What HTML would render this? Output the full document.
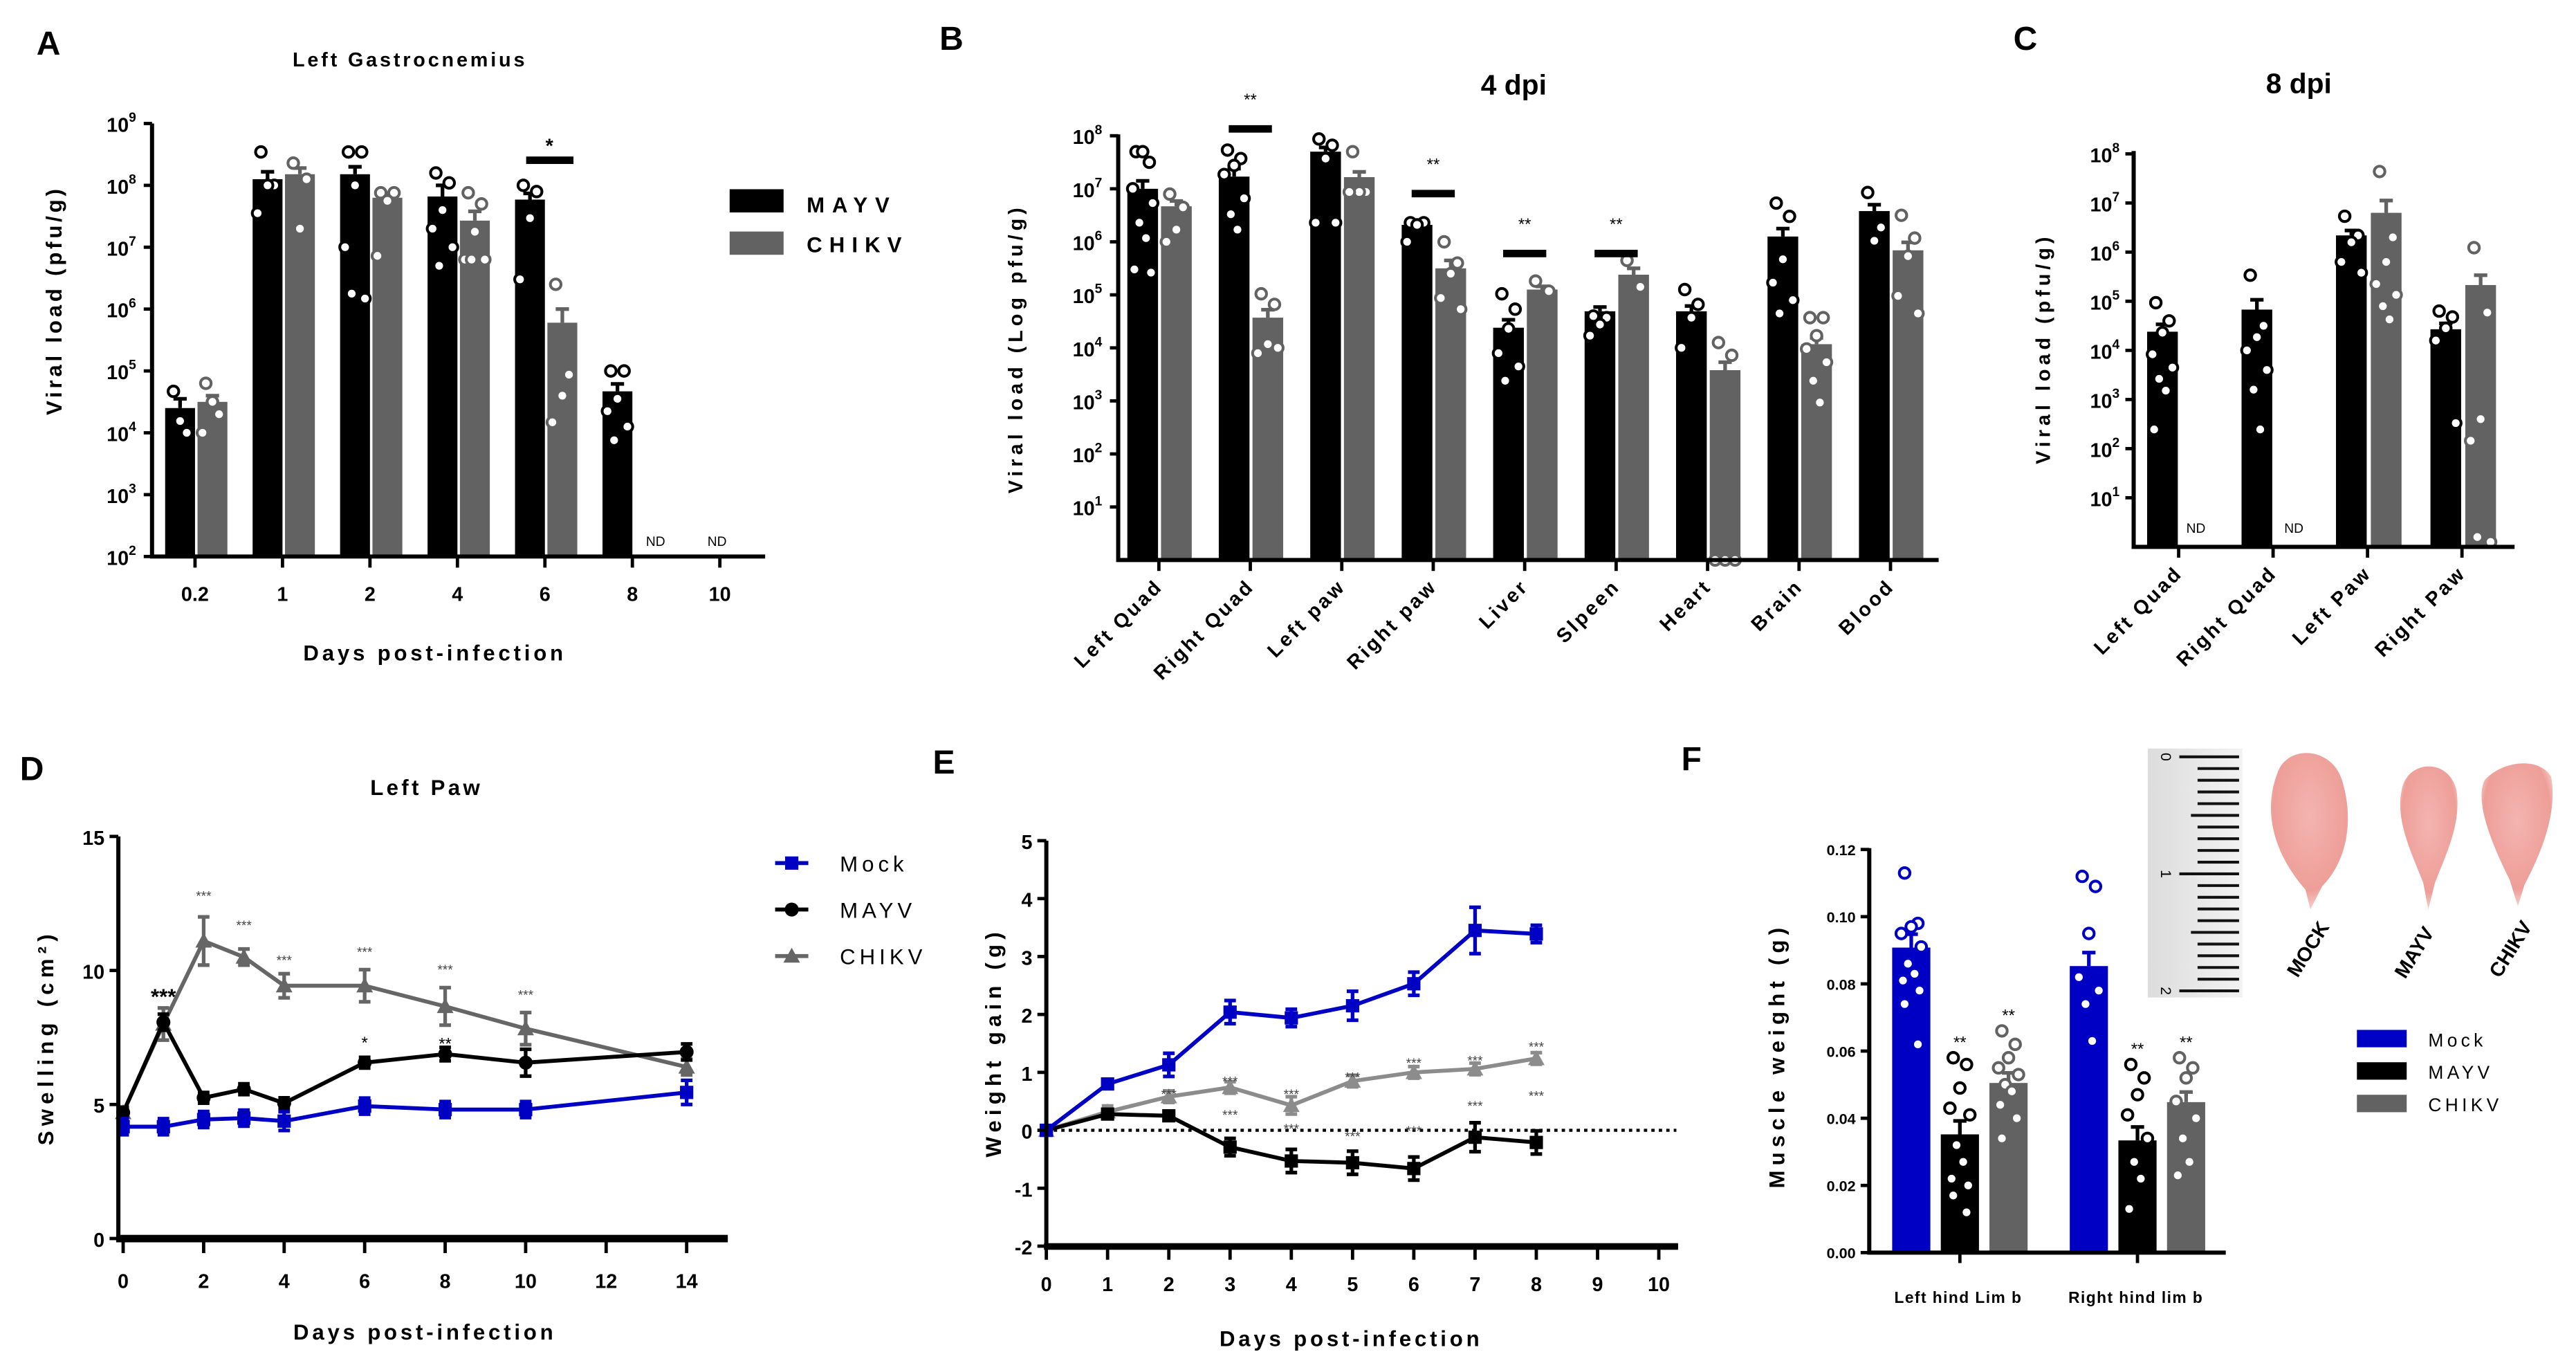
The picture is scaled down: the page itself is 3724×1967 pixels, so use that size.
<!DOCTYPE html>
<html><head><meta charset="utf-8"><title>Viral load, swelling, weight and muscle figure</title>
<style>
html,body{margin:0;padding:0;background:#fff;}
svg{display:block;font-family:"Liberation Sans",sans-serif;font-weight:bold;}
</style></head>
<body>
<svg id="fig" width="3724" height="1967" viewBox="0 0 1552 820" preserveAspectRatio="none">
<defs>
<linearGradient id="rulerGrad" x1="0" x2="1" y1="0" y2="0"><stop offset="0" stop-color="#dcdcdc"/><stop offset="1" stop-color="#f2f2f2"/></linearGradient>
<radialGradient id="muscleGrad" cx="0.5" cy="0.4" r="0.6"><stop offset="0" stop-color="#f4b4b0"/><stop offset="0.8" stop-color="#ee9e98"/><stop offset="1" stop-color="#f7d0cc"/></radialGradient>
</defs>
</svg>
<script>
// ---------- Panel A data ----------
const aCats=['0.2','1','2','4','6','8','10'];
const aMayv=[4.4,8.1,8.18,7.82,7.77,4.67,null];
const aMayvErr=[0.15,0.12,0.12,0.18,0.1,0.12,null];
const aChikv=[4.5,8.18,7.8,7.43,5.78,null,null];
const aChikvErr=[0.1,0.1,0.05,0.15,0.22,null,null];
const aMayvPts=[[4.67,4.0,4.19],[8.54,8.0,8.0,7.55],[8.54,8.54,8.0,7.0,6.17,6.25],[8.2,8.04,7.6,7.3,7.0,6.7],[8.0,7.9,7.47,6.48],[5.0,5.0,4.55,4.35,4.1,3.88],[]];
const aChikvPts=[[4.8,4.3,4.5,4.0],[8.36,8.1,7.3],[7.88,7.88,7.75,6.86],[7.88,7.7,7.25,6.8,6.8,6.8],[6.4,4.94,4.6,4.17],[],[]];
// ---------- Panel B data ----------
const bCats=['Left Quad','Right Quad','Left paw','Right paw','Liver','Slpeen','Heart','Brain','Blood'];
const bMayv=[7.0,7.23,7.7,6.32,4.38,4.69,4.69,6.1,6.58];
const bMayvErr=[0.15,0.15,0.08,0.05,0.15,0.08,0.1,0.15,0.12];
const bChikv=[6.67,4.57,7.22,5.5,5.1,5.38,3.58,4.07,5.84];
const bChikvErr=[0.1,0.15,0.1,0.15,0.06,0.12,0.15,0.12,0.15];
const bMayvPts=[[7.7,7.5,7.7,7.0,6.73,6.36,6.07,5.48,5.42],[7.73,7.57,7.44,7.27,6.82,6.52,6.23],[7.94,7.82,7.57,6.36,6.36],[6.36,6.36,6.32,6.0],[5.02,4.73,4.36,3.9,3.65,3.38],[4.6,4.57,4.44,4.23],[5.1,4.82,4.57,4.0],[6.73,6.48,5.67,5.23,4.9,4.65],[6.93,6.27,6.02]];
const bChikvPts=[[6.9,6.65,6.23,6.0],[5.02,4.82,4.07,3.9,4.0],[7.7,6.94,6.94,6.94],[6.0,5.6,5.4,4.94,4.73],[5.26,5.07],[5.65,5.15],[4.1,3.86,0,0,0],[4.57,4.57,4.23,3.98,3.73,3.38,2.97],[6.5,6.07,5.73,4.98,4.65]];
const bSig=[1,3,4,5];
const bSigLevel=[8.2,6.98,5.85,5.85];
// ---------- Panel C data ----------
const cCats=['Left Quad','Right Quad','Left Paw','Right Paw'];
const cMayv=[4.38,4.83,6.34,4.43];
const cMayvErr=[0.15,0.2,0.1,0.12];
const cChikv=[null,null,6.8,5.33];
const cChikvErr=[null,null,0.25,0.2];
const cMayvPts=[[4.97,4.6,4.36,3.92,3.65,3.42,3.18,2.39],[5.53,4.5,4.27,4.0,3.6,3.2,2.39],[6.73,6.34,6.2,5.8,5.58],[4.8,4.68,4.45,4.2,2.52]];
const cChikvPts=[[],[],[7.64,6.3,5.8,5.35,5.13,4.9,4.63],[6.09,4.77,2.6,2.16,0.1,0.2]];
// ---------- Panel D data ----------
const dDays=[0,1,2,3,4,6,8,10,14];
const dTicks=[0,2,4,6,8,10,12,14];
const dYTicks=[0,5,10,15];
const dMock=[4.17,4.17,4.44,4.49,4.38,4.94,4.81,4.81,5.45];
const dMockErr=[0.3,0.3,0.3,0.3,0.35,0.3,0.3,0.3,0.45];
const dMayv=[4.7,8.07,5.25,5.57,5.05,6.56,6.88,6.56,6.96];
const dMayvErr=[0.2,0.3,0.2,0.2,0.2,0.2,0.25,0.5,0.3];
const dChikv=[4.7,8.0,11.1,10.5,9.43,9.43,8.66,7.83,6.4];
const dChikvErr=[0.2,0.6,0.9,0.3,0.45,0.6,0.7,0.6,0.3];
const dChikvStars=['','','***','***','***','***','***','***',''];
const dChikvStarVal=[0,0,12.8,11.7,10.4,10.7,10.05,9.1,0];
const dMayvStars=['','***','','','','*','**','',''];
const dMayvStarVal=[0,9.0,0,0,0,7.35,7.3,0,0];
// ---------- Panel E data ----------
const eDays=[0,1,2,3,4,5,6,7,8];
const eTicks=[0,1,2,3,4,5,6,7,8,9,10];
const eYTicks=[-2,-1,0,1,2,3,4,5];
const eMock=[0,0.8,1.13,2.04,1.94,2.15,2.53,3.45,3.39];
const eMockErr=[0.05,0.08,0.2,0.2,0.15,0.25,0.2,0.4,0.15];
const eChikv=[0,0.32,0.58,0.74,0.43,0.85,1.0,1.06,1.24];
const eChikvErr=[0.05,0.1,0.1,0.1,0.15,0.1,0.1,0.1,0.1];
const eMayv=[0,0.28,0.25,-0.29,-0.53,-0.56,-0.66,-0.12,-0.21];
const eMayvErr=[0.05,0.05,0.08,0.15,0.2,0.2,0.2,0.25,0.2];
const eChikvStarVal=[null,null,0.63,0.85,0.63,0.92,1.17,1.21,1.45];
const eMayvStarVal=[null,null,null,0.27,0.03,-0.1,0.0,0.43,0.6];
// ---------- Panel F data ----------
const fGroups=['Left hind Lim b','Right hind lim b'];
const fYTicks=[0,0.02,0.04,0.06,0.08,0.10,0.12];
const fMock=[0.0908,0.0853];
const fMayv=[0.0352,0.0334];
const fChikv=[0.0505,0.0448];
const fErr=[[0.004,0.004],[0.004,0.004],[0.003,0.003]];
const fMockPts=[[0.113,0.098,0.097,0.095,0.091,0.086,0.083,0.081,0.078,0.074,0.062],[0.112,0.109,0.095,0.082,0.078,0.074,0.063]];
const fMayvPts=[[0.058,0.056,0.049,0.043,0.041,0.032,0.027,0.022,0.020,0.017,0.012],[0.056,0.052,0.047,0.041,0.034,0.027,0.022,0.013]];
const fChikvPts=[[0.066,0.062,0.058,0.055,0.053,0.050,0.048,0.044,0.040,0.034],[0.058,0.055,0.052,0.045,0.040,0.034,0.027,0.023]];

const NS='http://www.w3.org/2000/svg';
const svg=document.getElementById('fig');
function mk(tag,attrs,parent){const e=document.createElementNS(NS,tag);for(const k in attrs)e.setAttribute(k,attrs[k]);(parent||svg).appendChild(e);return e;}
function tx(parent,x,y,s,attrs){const e=mk('text',Object.assign({x:x,y:y},attrs||{}),parent);e.textContent=s;return e;}
function grp(n){const g=mk('g',{});


return g;}

const BLUE='#0000c4', GRAY='#626262';
const JIT=[-4,4,0,-6,6,-2,2,-5,5];

function logAxis(g,axX,yfn,lo,hi,labX){
  for(let v=lo;v<=hi;v++){
    const t=mk('line',{x1:axX-5,x2:axX,y1:yfn(v),y2:yfn(v),stroke:'#000','stroke-width':2},g);
    
    
    const l=mk('text',{x:labX,y:yfn(v)+5,'font-size':12,'text-anchor':'end'},g);
    
    
    const a=mk('tspan',{},l);a.textContent='10';
    const b=mk('tspan',{dy:-6,'font-size':8},l);b.textContent=String(v);
  }
}
function bars(g,vals,errs,pts,cx,yfn,base,dx,w,fill,stroke,name){
  vals.forEach((v,i)=>{
    if(v===null)return;
    const x=cx(i)+dx;
    const r=mk('rect',{x:x,y:yfn(v),width:w,height:base-yfn(v),fill:fill},g);
    
    
    const e=errs[i]||0;
    const el=mk('path',{d:`M${x+w/2},${yfn(v)}V${yfn(v+e)}M${x+w/2-4},${yfn(v+e)}H${x+w/2+4}`,stroke:fill,'stroke-width':2.2,fill:'none'},g);
    
    
  });
  pts.forEach((arr,i)=>{
    arr.forEach((p,j)=>{
      const c=mk('circle',{cx:cx(i)+dx+w/2+JIT[j%JIT.length],cy:Math.min(yfn(p),base),r:3.2,fill:'#fff',stroke:stroke,'stroke-width':1.7},g);
      
      
    });
  });
}
function axisLines(g,x0,yTop,yBot,xEnd,sw){
  const a=mk('path',{d:`M${x0},${yTop}V${yBot}H${xEnd}`,stroke:'#000','stroke-width':sw||2.5,fill:'none'},g);
  
  
}
function label(g,x,y,s,attrs,n){const t=tx(g,x,y,s,attrs);


return t;}

// ================= Panel A =================
const yA=v=>335.3-(v-2)*37.27, cxA=i=>117.5+52.7*i;
const gA=grp('panel-a');
label(gA,22,33,'A',{'font-size':20},'panel-letter-a');
label(gA,247,40,'Left Gastrocnemius',{'font-size':12,'text-anchor':'middle','letter-spacing':1.6},'chart-title-a');
bars(gA,aMayv,aMayvErr,aMayvPts,cxA,yA,335.3,-18,18,'#000','#000','mayv');
bars(gA,aChikv,aChikvErr,aChikvPts,cxA,yA,335.3,1.5,18,GRAY,GRAY,'chikv');
axisLines(gA,91.6,74.4,335.3,461);
logAxis(gA,91.6,yA,2,9,82);
aCats.forEach((c,i)=>{
  const t=mk('line',{x1:cxA(i),x2:cxA(i),y1:335,y2:342,stroke:'#000','stroke-width':2},gA);
  
  
  label(gA,cxA(i),362,c,{'font-size':12,'text-anchor':'middle'},'x-tick-label');
});
label(gA,395,329,'ND',{'font-size':8,'text-anchor':'middle','font-weight':'normal'},'nd-label');
label(gA,432,329,'ND',{'font-size':8,'text-anchor':'middle','font-weight':'normal'},'nd-label');
label(gA,262,398,'Days post-infection',{'font-size':13,'text-anchor':'middle','letter-spacing':2},'x-axis-title-a');
label(gA,0,0,'Viral load (pfu/g)',{'font-size':13,'text-anchor':'middle','letter-spacing':2,transform:'translate(37,181) rotate(-90)'},'y-axis-title-a');
const sa=mk('rect',{x:317,y:94.3,width:28.5,height:4.5,fill:'#000'},gA);


label(gA,331,92,'*',{'font-size':12,'text-anchor':'middle'},'significance-star');
const la1=mk('rect',{x:439.6,y:114,width:32.5,height:14,fill:'#000'},gA);


const la2=mk('rect',{x:439.6,y:139.5,width:32.5,height:14,fill:GRAY},gA);


label(gA,486,128,'MAYV',{'font-size':13,'letter-spacing':4.5},'legend-label-mayv');
label(gA,486,152,'CHIKV',{'font-size':13,'letter-spacing':4.2},'legend-label-chikv');

// ================= Panel B =================
const yB=v=>337.4-v*31.95, cxB=i=>698.2+55.1*i;
const gB=grp('panel-b');
label(gB,566,30,'B',{'font-size':20},'panel-letter-b');
label(gB,912,57,'4 dpi',{'font-size':17,'text-anchor':'middle'},'chart-title-b');
bars(gB,bMayv,bMayvErr,bMayvPts,cxB,yB,337.4,-19,18.5,'#000','#000','mayv');
bars(gB,bChikv,bChikvErr,bChikvPts,cxB,yB,337.4,1.3,18.5,GRAY,GRAY,'chikv');
axisLines(gB,673.7,81,337.4,1168);
logAxis(gB,673.7,yB,1,8,664);
bCats.forEach((c,i)=>{
  const t=mk('line',{x1:cxB(i),x2:cxB(i),y1:337,y2:344,stroke:'#000','stroke-width':2},gB);
  
  
  label(gB,cxB(i)+3,354,c,{'font-size':12,'text-anchor':'end','letter-spacing':1.5,transform:`rotate(-45 ${cxB(i)+3} 354)`},'x-tick-label');
});
bSig.forEach((i,k)=>{
  const yy=yB(bSigLevel[k]);
  const r=mk('rect',{x:cxB(i)-13,y:yy,width:26,height:4.5,fill:'#000'},gB);
  
  
  label(gB,cxB(i),yy-12,'**',{'font-size':10,'text-anchor':'middle','font-weight':'normal'},'significance-stars');
});
label(gB,0,0,'Viral load (Log pfu/g)',{'font-size':12,'text-anchor':'middle','letter-spacing':2.5,transform:'translate(616,210) rotate(-90)'},'y-axis-title-b');

// ================= Panel C =================
const yC=v=>329.5-v*29.6, cxC=i=>1312.6+56.9*i;
const gC=grp('panel-c');
label(gC,1213,30,'C',{'font-size':20},'panel-letter-c');
label(gC,1385,56,'8 dpi',{'font-size':17,'text-anchor':'middle'},'chart-title-c');
bars(gC,cMayv,cMayvErr,cMayvPts,cxC,yC,329.5,-19,18.5,'#000','#000','mayv');
bars(gC,cChikv,cChikvErr,cChikvPts,cxC,yC,329.5,2,18.5,GRAY,GRAY,'chikv');
axisLines(gC,1285.5,91,329.5,1515);
logAxis(gC,1285.5,yC,1,8,1277);
cCats.forEach((c,i)=>{
  const t=mk('line',{x1:cxC(i),x2:cxC(i),y1:329,y2:336,stroke:'#000','stroke-width':2},gC);
  
  
  label(gC,cxC(i)+3,346,c,{'font-size':12,'text-anchor':'end','letter-spacing':1.5,transform:`rotate(-45 ${cxC(i)+3} 346)`},'x-tick-label');
});
label(gC,1323,321,'ND',{'font-size':8,'text-anchor':'middle','font-weight':'normal'},'nd-label');
label(gC,1382,321,'ND',{'font-size':8,'text-anchor':'middle','font-weight':'normal'},'nd-label');
label(gC,0,0,'Viral load (pfu/g)',{'font-size':12,'text-anchor':'middle','letter-spacing':2.5,transform:'translate(1235,210) rotate(-90)'},'y-axis-title-c');

// ================= line chart helpers =================
function marker(g,shape,x,y,color,n){
  let m;
  if(shape==='sq') m=mk('rect',{x:x-4,y:y-4,width:8,height:8,fill:color},g);
  else if(shape==='ci') m=mk('circle',{cx:x,cy:y,r:4.2,fill:color},g);
  else m=mk('path',{d:`M${x},${y-5}L${x+5},${y+4}L${x-5},${y+4}Z`,fill:color},g);
  
  
}
function series(g,days,vals,errs,xf,yf,color,shape,n){
  const pl=mk('polyline',{points:days.map((d,i)=>xf(d)+','+yf(vals[i])).join(' '),fill:'none',stroke:color,'stroke-width':2.4},g);
  
  
  days.forEach((d,i)=>{
    const x=xf(d),y1=yf(vals[i]-errs[i]),y2=yf(vals[i]+errs[i]);
    const e=mk('path',{d:`M${x},${y1}V${y2}M${x-3.5},${y1}H${x+3.5}M${x-3.5},${y2}H${x+3.5}`,stroke:color,'stroke-width':2.2,fill:'none'},g);
    
    
    marker(g,shape,x,yf(vals[i]),color,n+'-marker');
  });
}

// ================= Panel D =================
const xD=d=>74.2+d*24.25, yD=v=>746.2-v*16.15;
const gD=grp('panel-d');
label(gD,12,470,'D',{'font-size':20},'panel-letter-d');
label(gD,257,479,'Left Paw',{'font-size':13,'text-anchor':'middle','letter-spacing':1.8},'chart-title-d');
series(gD,dDays,dChikv,dChikvErr,xD,yD,'#666','tr','chikv');
series(gD,dDays,dMayv,dMayvErr,xD,yD,'#000','ci','mayv');
series(gD,dDays,dMock,dMockErr,xD,yD,BLUE,'sq','mock');
const dax=mk('path',{d:`M71.3,${yD(15)}V746.2`,stroke:'#000','stroke-width':2.5,fill:'none'},gD);


const dxa=mk('rect',{x:70,y:744,width:368.5,height:4.5,fill:'#000'},gD);


dYTicks.forEach(v=>{
  const t=mk('line',{x1:66,x2:71.3,y1:yD(v),y2:yD(v),stroke:'#000','stroke-width':2},gD);
  
  
  label(gD,63,yD(v)+5,String(v),{'font-size':12,'text-anchor':'end'},'y-tick-label');
});
dTicks.forEach(d=>{
  const t=mk('line',{x1:xD(d),x2:xD(d),y1:748,y2:755,stroke:'#000','stroke-width':2},gD);
  
  
  label(gD,xD(d),776,String(d),{'font-size':12,'text-anchor':'middle'},'x-tick-label');
});
dDays.forEach((d,i)=>{
  if(dChikvStars[i]) label(gD,xD(d),yD(dChikvStarVal[i])+3,dChikvStars[i],{'font-size':8,'text-anchor':'middle','font-weight':'normal',fill:'#444'},'significance-stars-chikv');
  if(dMayvStars[i]) label(gD,xD(d),yD(dMayvStarVal[i])+4,dMayvStars[i],{'font-size':i===1?13:10,'text-anchor':'middle','font-weight':i===1?'bold':'normal'},'significance-stars-mayv');
});
label(gD,256,807,'Days post-infection',{'font-size':13,'text-anchor':'middle','letter-spacing':2},'x-axis-title-d');
label(gD,0,0,'Swelling (cm²)',{'font-size':13,'text-anchor':'middle','letter-spacing':3,transform:'translate(32,625) rotate(-90)'},'y-axis-title-d');
[['Mock',BLUE,'sq',520],['MAYV','#000','ci',548],['CHIKV','#666','tr',576]].forEach(r=>{
  const l=mk('line',{x1:467,x2:487,y1:r[3],y2:r[3],stroke:r[1],'stroke-width':2.4},gD);
  
  
  marker(gD,r[2],477,r[3],r[1],'legend-marker');
  label(gD,506,r[3]+5,r[0],{'font-size':13,'font-weight':'normal','letter-spacing':2.5},'legend-label');
});

// ================= Panel E =================
const xE=d=>630.4+d*36.9, yE=v=>750.8-(v+2)*34.9;
const gE=grp('panel-e');
label(gE,562,466,'E',{'font-size':20},'panel-letter-e');
const zl=mk('line',{x1:630.4,x2:1010,y1:yE(0),y2:yE(0),stroke:'#000','stroke-width':1.8,'stroke-dasharray':'2,2.5'},gE);


series(gE,eDays,eChikv,eChikvErr,xE,yE,'#8c8c8c','tr','chikv');
series(gE,eDays,eMayv,eMayvErr,xE,yE,'#000','sq','mayv');
series(gE,eDays,eMock,eMockErr,xE,yE,BLUE,'sq','mock');
axisLines(gE,630.4,yE(5),750.8,1011,2.5);
const exa=mk('rect',{x:629,y:749,width:382,height:4,fill:'#000'},gE);


eYTicks.forEach(v=>{
  const t=mk('line',{x1:625,x2:630.4,y1:yE(v),y2:yE(v),stroke:'#000','stroke-width':2},gE);
  
  
  label(gE,622,yE(v)+5,String(v),{'font-size':12,'text-anchor':'end'},'y-tick-label');
});
eTicks.forEach(d=>{
  const t=mk('line',{x1:xE(d),x2:xE(d),y1:752,y2:759,stroke:'#000','stroke-width':2},gE);
  
  
  label(gE,xE(d),778,String(d),{'font-size':12,'text-anchor':'middle'},'x-tick-label');
});
eDays.forEach((d,i)=>{
  if(eChikvStarVal[i]!==null) label(gE,xE(d),yE(eChikvStarVal[i])+3,'***',{'font-size':8,'text-anchor':'middle','font-weight':'normal',fill:'#444'},'significance-stars-chikv');
  if(eMayvStarVal[i]!==null) label(gE,xE(d),yE(eMayvStarVal[i])+3,'***',{'font-size':8,'text-anchor':'middle','font-weight':'normal',fill:'#444'},'significance-stars-mayv');
});
label(gE,814,811,'Days post-infection',{'font-size':13,'text-anchor':'middle','letter-spacing':2},'x-axis-title-e');
label(gE,0,0,'Weight gain (g)',{'font-size':13,'text-anchor':'middle','letter-spacing':3,transform:'translate(603,628) rotate(-90)'},'y-axis-title-e');

// ================= Panel F =================
const yF=v=>754.7-v*2024;
const fGroupX=[1140,1247];
const gF=grp('panel-f');
label(gF,1013,464,'F',{'font-size':20},'panel-letter-f');
const cxF=(s)=>(i=>fGroupX[i]+s*29.3);
bars(gF,fMock,fErr[0],fMockPts,cxF(0),yF,754.7,0,23,BLUE,BLUE,'mock');
bars(gF,fMayv,fErr[1],fMayvPts,cxF(1),yF,754.7,0,23,'#000','#000','mayv');
bars(gF,fChikv,fErr[2],fChikvPts,cxF(2),yF,754.7,0,23,GRAY,GRAY,'chikv');
axisLines(gF,1126.2,511,754.7,1341,2.5);
fYTicks.forEach(v=>{
  const t=mk('line',{x1:1121,x2:1126.2,y1:yF(v),y2:yF(v),stroke:'#000','stroke-width':2},gF);
  
  
  label(gF,1118,yF(v)+3.5,v.toFixed(2),{'font-size':9,'text-anchor':'end'},'y-tick-label');
});
fGroups.forEach((s,i)=>{
  const c=fGroupX[i]+29.3+11.5;
  const t=mk('line',{x1:c,x2:c,y1:755,y2:761,stroke:'#000','stroke-width':2},gF);
  
  
  label(gF,c-1,785,s,{'font-size':9.5,'text-anchor':'middle','letter-spacing':0.6},'x-tick-label');
  const topM=Math.max.apply(null,fMayvPts[i]);
  label(gF,cxF(1)(i)+11.5,yF(topM)-6,'**',{'font-size':10,'text-anchor':'middle','font-weight':'normal'},'significance-stars-mayv');
  const topC=Math.max.apply(null,fChikvPts[i]);
  label(gF,cxF(2)(i)+11.5,yF(topC)-6,'**',{'font-size':10,'text-anchor':'middle','font-weight':'normal'},'significance-stars-chikv');
});
label(gF,0,0,'Muscle weight (g)',{'font-size':13,'text-anchor':'middle','letter-spacing':3,transform:'translate(1075,636) rotate(-90)'},'y-axis-title-f');
[['Mock',BLUE,620.5],['MAYV','#000',640],['CHIKV',GRAY,659.6]].forEach(r=>{
  const b=mk('rect',{x:1420,y:r[2],width:30,height:10.5,fill:r[1]},gF);
  
  
  label(gF,1463,r[2]+10,r[0],{'font-size':11,'font-weight':'normal','letter-spacing':2.2},'legend-label');
});

// ================= Photo =================
const gP=grp('muscle-photo');
const ru=mk('rect',{x:1294,y:451,width:57,height:150,fill:'url(#rulerGrad)'},gP);


for(let k=0;k<=20;k++){
  const y=456+k*7.05;
  const long=(k%10===0), mid=(k%5===0);
  const t=mk('line',{x1:long?1313:(mid?1320:1324),x2:1349,y1:y,y2:y,stroke:'#111','stroke-width':1.7},gP);
  
  
}
['0','1','2'].forEach((s,k)=>{
  label(gP,0,0,s,{'font-size':9,'font-weight':'normal','text-anchor':'middle',transform:`translate(1302,${456+k*70.5}) rotate(90)`},'ruler-number');
});
[['M1372,466 C1378,448 1405,450 1411,470 C1419,496 1413,520 1399,534 L1392,548 L1389,536 C1373,518 1362,492 1372,466Z','muscle-mock'],
 ['M1447,476 C1450,458 1475,456 1480,476 C1483,496 1474,514 1467,532 L1463,548 L1460,532 C1453,514 1443,494 1447,476Z','muscle-mayv'],
 ['M1497,470 C1508,458 1530,456 1537,468 C1541,490 1531,514 1521,533 L1517,546 L1512,530 C1500,506 1491,482 1497,470Z','muscle-chikv']].forEach(m=>{
  const p=mk('path',{d:m[0],fill:'url(#muscleGrad)'},gP);
  
  
});
[['MOCK',1394,574],['MAYV',1458,576],['CHIKV',1516,574]].forEach(r=>{
  label(gP,0,0,r[0],{'font-size':12,'text-anchor':'middle',transform:`translate(${r[1]},${r[2]}) rotate(-58)`},'photo-label');
});
</script>
</body></html>
